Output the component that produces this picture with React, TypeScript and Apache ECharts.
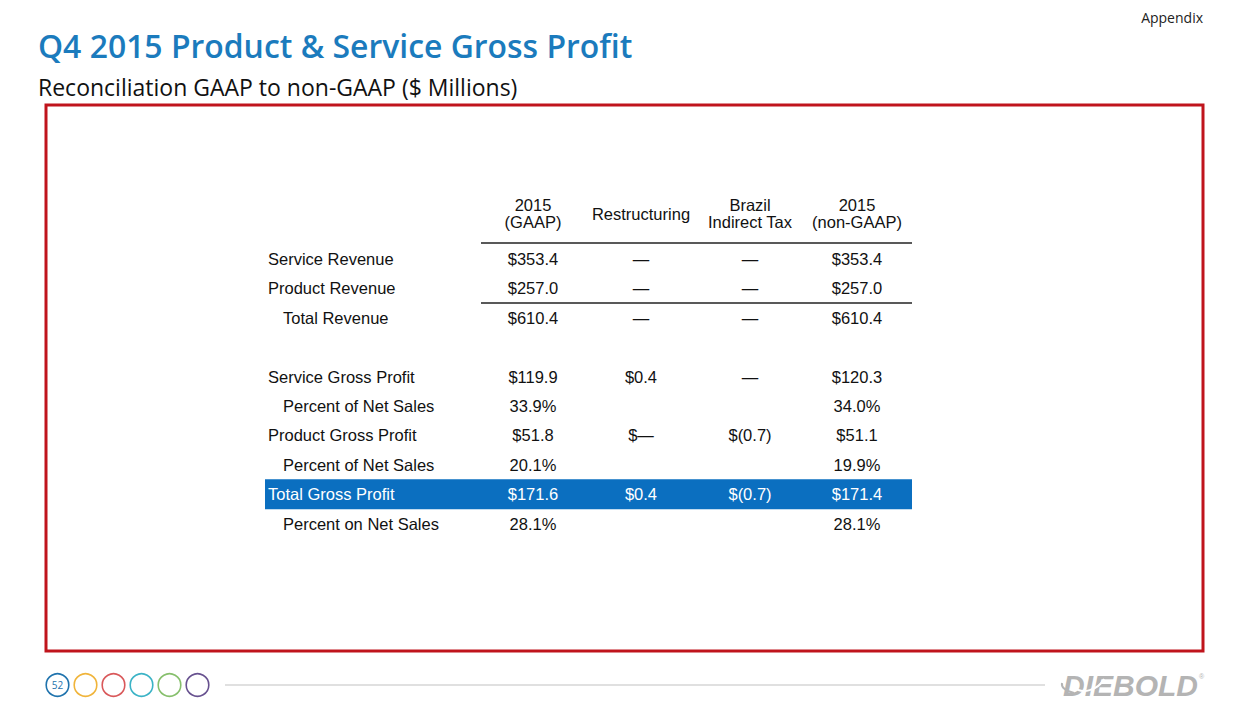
import React, { useEffect, useRef } from "react";
import * as echarts from "echarts";

const titleText = "Q4 2015 Product & Service Gross Profit";
const subtitleText = "Reconciliation GAAP to non-GAAP ($ Millions)";
const cornerText = "Appendix";
const pageNumber = "52";

const headerTop = ["2015", "", "Brazil", "2015"];
const headerBottom = ["(GAAP)", "Restructuring", "Indirect Tax", "(non-GAAP)"];

const rowLabels = [
  "Service Revenue",
  "Product Revenue",
  "Total Revenue",
  "",
  "Service Gross Profit",
  "Percent of Net Sales",
  "Product Gross Profit",
  "Percent of Net Sales",
  "Total Gross Profit",
  "Percent on Net Sales",
];
const rowIndent = [false, false, true, false, false, true, false, true, false, true];
const gaapValues = ["$353.4", "$257.0", "$610.4", "", "$119.9", "33.9%", "$51.8", "20.1%", "$171.6", "28.1%"];
const restructuringValues = ["—", "—", "—", "", "$0.4", "", "$—", "", "$0.4", ""];
const brazilTaxValues = ["—", "—", "—", "", "—", "", "$(0.7)", "", "$(0.7)", ""];
const nonGaapValues = ["$353.4", "$257.0", "$610.4", "", "$120.3", "34.0%", "$51.1", "19.9%", "$171.4", "28.1%"];
const highlightRow = 8;
const ruleAfterRows = [-1, 1];

const circleColors = ["#1f73ad", "#f0b43a", "#d9585a", "#3bb3c6", "#86bf6c", "#67518f"];

export default function App() {
  const ref = useRef<HTMLDivElement>(null);
  useEffect(() => {
    document.body.style.margin = "0";
    const chart = echarts.init(ref.current!, null, { renderer: "svg" });
    const tableFont = "Liberation Sans, Arial, sans-serif";
    const colX = [533, 641, 750, 857];
    const rowY0 = 259;
    const rowStep = 29.4;
    const elements: any[] = [];

    // title
    elements.push({
      type: "text", x: 38, y: 45, scaleX: 0.967,
      style: { text: titleText, fontFamily: "Open Sans", fontWeight: 600, fontSize: 33, fill: "#1b7bbd", verticalAlign: "middle" },
    });
    elements.push({
      type: "text", x: 38, y: 87,
      style: { text: subtitleText, fontFamily: "Open Sans", fontWeight: 400, fontSize: 23, fill: "#111", verticalAlign: "middle" },
    });
    elements.push({
      type: "text", x: 1203, y: 17,
      style: { text: cornerText, fontFamily: "Open Sans", fontSize: 14, fill: "#222", align: "right", verticalAlign: "middle" },
    });
    // red frame
    elements.push({
      type: "rect", shape: { x: 46, y: 105, width: 1157, height: 546 },
      style: { fill: "none", stroke: "#c0141c", lineWidth: 3 },
    });

    // header
    const columns = [gaapValues, restructuringValues, brazilTaxValues, nonGaapValues];
    const fs = 16.5;
    headerBottom.forEach((hb, i) => {
      if (headerTop[i]) {
        elements.push({ type: "text", x: colX[i], y: 205, style: { text: headerTop[i], fontFamily: tableFont, fontSize: fs, fill: "#111", align: "center", verticalAlign: "middle" } });
        elements.push({ type: "text", x: colX[i], y: 222, style: { text: hb, fontFamily: tableFont, fontSize: fs, fill: "#111", align: "center", verticalAlign: "middle" } });
      } else {
        elements.push({ type: "text", x: colX[i], y: 214, style: { text: hb, fontFamily: tableFont, fontSize: fs, fill: "#111", align: "center", verticalAlign: "middle" } });
      }
    });

    // rules
    ruleAfterRows.forEach((r) => {
      const y = r < 0 ? 243 : rowY0 + rowStep * (r + 0.5);
      elements.push({ type: "line", shape: { x1: 481, y1: y, x2: 912, y2: y }, style: { stroke: "#222", lineWidth: 1.5 } });
    });

    // highlight band
    const hy = rowY0 + rowStep * highlightRow;
    elements.push({ type: "rect", shape: { x: 265, y: hy - 15, width: 647, height: 30 }, style: { fill: "#0b6fc0" } });

    rowLabels.forEach((label, r) => {
      const y = rowY0 + rowStep * r;
      const fill = r === highlightRow ? "#ffffff" : "#111";
      if (label) {
        elements.push({ type: "text", x: rowIndent[r] ? 283 : 268, y, style: { text: label, fontFamily: tableFont, fontSize: fs, fill, verticalAlign: "middle" } });
      }
      columns.forEach((col, c) => {
        if (col[r]) {
          elements.push({ type: "text", x: colX[c], y, style: { text: col[r], fontFamily: tableFont, fontSize: fs, fill, align: "center", verticalAlign: "middle" } });
        }
      });
    });

    // footer circles
    circleColors.forEach((color, i) => {
      elements.push({ type: "circle", shape: { cx: 57.5 + 28 * i, cy: 685, r: 11.3 }, style: { fill: "#fff", stroke: color, lineWidth: 1.6 } });
    });
    elements.push({ type: "text", x: 57.5, y: 685, style: { text: pageNumber, fontFamily: "Open Sans", fontSize: 10, fill: "#1f73ad", align: "center", verticalAlign: "middle" } });
    elements.push({ type: "line", shape: { x1: 225, y1: 685, x2: 1045, y2: 685 }, style: { stroke: "#d6d6d6", lineWidth: 1.5 } });

    // logo
    elements.push({ type: "text", x: 1063, y: 685, style: { text: "DIEBOLD", fontFamily: tableFont, fontWeight: 900, fontStyle: "italic", fontSize: 30, fill: "#b4b4b4", verticalAlign: "middle" } });
    elements.push({ type: "bezierCurve", shape: { x1: 1074, y1: 687, x2: 1104, y2: 679, cpx1: 1082, cpy1: 695, cpx2: 1098, cpy2: 690 }, style: { stroke: "#ffffff", lineWidth: 2, fill: "none" } });
    elements.push({ type: "bezierCurve", shape: { x1: 1062, y1: 683, x2: 1074, y2: 693, cpx1: 1061, cpy1: 688, cpx2: 1066, cpy2: 691 }, style: { stroke: "#b4b4b4", lineWidth: 2, fill: "none" } });
    elements.push({ type: "text", x: 1199, y: 676, style: { text: "®", fontFamily: tableFont, fontSize: 7, fill: "#b4b4b4", verticalAlign: "middle" } });

    chart.setOption({ animation: false, graphic: { elements } });
    return () => chart.dispose();
  }, []);
  return <div ref={ref} style={{ width: 1248, height: 720, position: "absolute", left: 0, top: 0, background: "#fff" }} />;
}
